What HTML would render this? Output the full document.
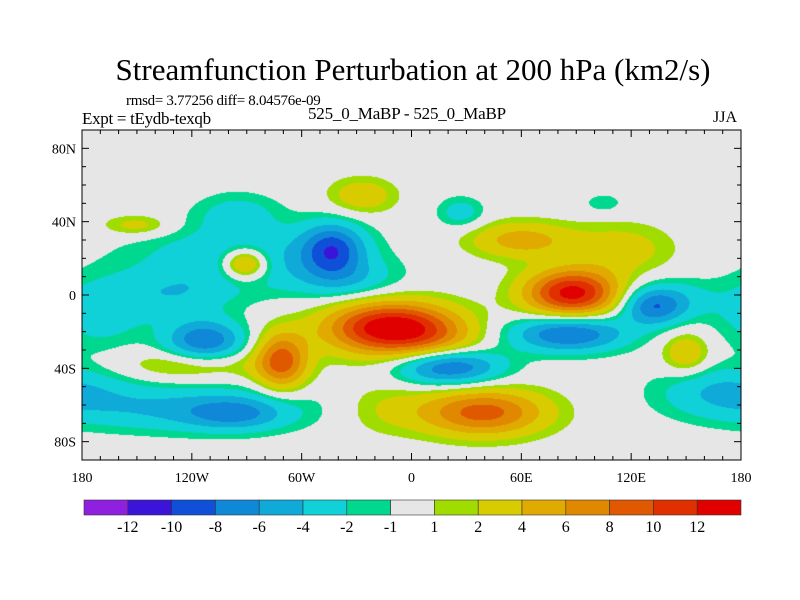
<!DOCTYPE html>
<html><head><meta charset="utf-8"><style>
body{margin:0;background:#fff;width:800px;height:600px;overflow:hidden;font-family:"Liberation Serif",serif;}
#root{position:relative;width:800px;height:600px;}
.t{position:absolute;white-space:nowrap;color:#000;}
</style></head><body><div id="root">
<div class="t" style="left:0;width:826px;text-align:center;top:52px;font-size:31px;">Streamfunction Perturbation at 200 hPa (km2/s)</div>
<div class="t" style="left:126px;top:93px;font-size:15px;letter-spacing:-0.3px;">rmsd= 3.77256 diff= 8.04576e-09</div>
<div class="t" style="left:82px;top:109px;font-size:17px;letter-spacing:-0.3px;">Expt = tEydb-texqb</div>
<div class="t" style="left:308px;top:104px;font-size:17px;letter-spacing:-0.2px;">525_0_MaBP - 525_0_MaBP</div>
<div class="t" style="left:713px;top:109px;font-size:16px;">JJA</div>
<canvas id="map" width="659" height="330" style="position:absolute;left:82px;top:130px;"></canvas>
<svg id="ov" width="800" height="600" style="position:absolute;left:0;top:0;"></svg>
</div>
<script>
// blob data: lon, lat, amplitude, lon-sigma, lat-sigma
const blobLon=[88,60,115,-12,-71,39,20,-113,-43,86,132,-96,-90,-91,-27,27,105,-150,170,150,-170,-120,15,-130,-120,-35,140,-15,-95];
const blobLat=[1,30,25,-18,-36,-64,-39,-25,25,-21,-7,-65,20,17,54,45,50,38,-52,-32,-10,-38,-26,0,-62,8,-2,-62,45];
const blobAmp=[13,5,3,14,9,9,-9,-8,-8,-8.5,-6,-4,-4,7.5,3.5,-3,-1.8,3,-4,4,-3,3,3,-3,-4.5,-3,-3,2,-2.5];
const blobSx=[18,20,20,24,10,24,20,15,12,22,12,18,42,9,13,9,8,13,25,9,18,28,18,22,45,20,18,18,16];
const blobSy=[9,7,10,10,11,9,7,8,10,7,7,6,13,6,7,6,4,4,10,8,14,6,10,9,9,8,8,10,8];
const levels=[-12,-10,-8,-6,-4,-2,-1,1,2,4,6,8,10,12];
const levelLabels=["-12","-10","-8","-6","-4","-2","-1","1","2","4","6","8","10","12"];
const colors=["#9020e0","#3a14d8","#1050d8","#1088d8","#10aad8","#10d0d8","#00d890","#e6e6e6","#a0dc00","#d8cc00","#e0aa00","#e08800","#e05800","#e03000","#e00000"];
const lonTicks=[-180,-120,-60,0,60,120,180];
const lonLabels=["180","120W","60W","0","60E","120E","180"];
const latTicks=[80,40,0,-40,-80];
const latLabels=["80N","40N","0","40S","80S"];
const X0=82,X1=741,Y0=130,Y1=460;
const xs=lon=>X0+(lon+180)/360*(X1-X0);
const ys=lat=>Y0+(90-lat)/180*(Y1-Y0);
function field(lon,lat){let v=0;for(let i=0;i<blobLon.length;i++){let d=lon-blobLon[i];d=((d+540)%360)-180;const e=lat-blobLat[i];v+=blobAmp[i]*Math.exp(-0.5*(d*d/(blobSx[i]*blobSx[i])+e*e/(blobSy[i]*blobSy[i])));}return v;}
function rgb(h){return[parseInt(h.slice(1,3),16),parseInt(h.slice(3,5),16),parseInt(h.slice(5,7),16)];}
const cv=document.getElementById('map'),ctx=cv.getContext('2d');
const W=cv.width,H=cv.height,img=ctx.createImageData(W,H),cr=colors.map(rgb);
for(let py=0;py<H;py++){const lat=90-(py+0.5)/H*180;for(let px=0;px<W;px++){const lon=-180+(px+0.5)/W*360;const v=field(lon,lat);let k=0;while(k<levels.length&&v>=levels[k])k++;const c=cr[k],o=(py*W+px)*4;img.data[o]=c[0];img.data[o+1]=c[1];img.data[o+2]=c[2];img.data[o+3]=255;}}
ctx.putImageData(img,0,0);
const ov=document.getElementById('ov');const NS='http://www.w3.org/2000/svg';
function mk(t,a){const e=document.createElementNS(NS,t);for(const k in a)e.setAttribute(k,a[k]);ov.appendChild(e);return e;}
const fr=mk('rect',{x:X0,y:Y0,width:X1-X0,height:Y1-Y0,fill:'none',stroke:'#000','stroke-width':1});


for(let lon=-180;lon<=180;lon+=10){const x=xs(lon),L=(lon%60===0)?7:4;mk('line',{x1:x,x2:x,y1:Y0,y2:Y0+L,stroke:'#000'});mk('line',{x1:x,x2:x,y1:Y1,y2:Y1-L,stroke:'#000'});}
for(let lat=-90;lat<=90;lat+=10){const y=ys(lat),L=(lat%40===0)?7:4;mk('line',{x1:X0,x2:X0+L,y1:y,y2:y,stroke:'#000'});mk('line',{x1:X1,x2:X1-L,y1:y,y2:y,stroke:'#000'});}
lonTicks.forEach((l,i)=>{const t=mk('text',{x:xs(l),y:482,'text-anchor':'middle','font-size':14,'font-family':'Liberation Serif,serif'});t.textContent=lonLabels[i];

});
latTicks.forEach((l,i)=>{const t=mk('text',{x:76,y:ys(l)+5,'text-anchor':'end','font-size':14,'font-family':'Liberation Serif,serif'});t.textContent=latLabels[i];

});
const CB0=84,CB1=741,bw=(CB1-CB0)/colors.length;
colors.forEach((c,i)=>{const r=mk('rect',{x:CB0+i*bw,y:500,width:bw,height:15,fill:c,stroke:'#333','stroke-width':0.6});

});
levelLabels.forEach((s,i)=>{const t=mk('text',{x:CB0+(i+1)*bw,y:532,'text-anchor':'middle','font-size':16,'font-family':'Liberation Serif,serif'});t.textContent=s;

});
</script></body></html>
